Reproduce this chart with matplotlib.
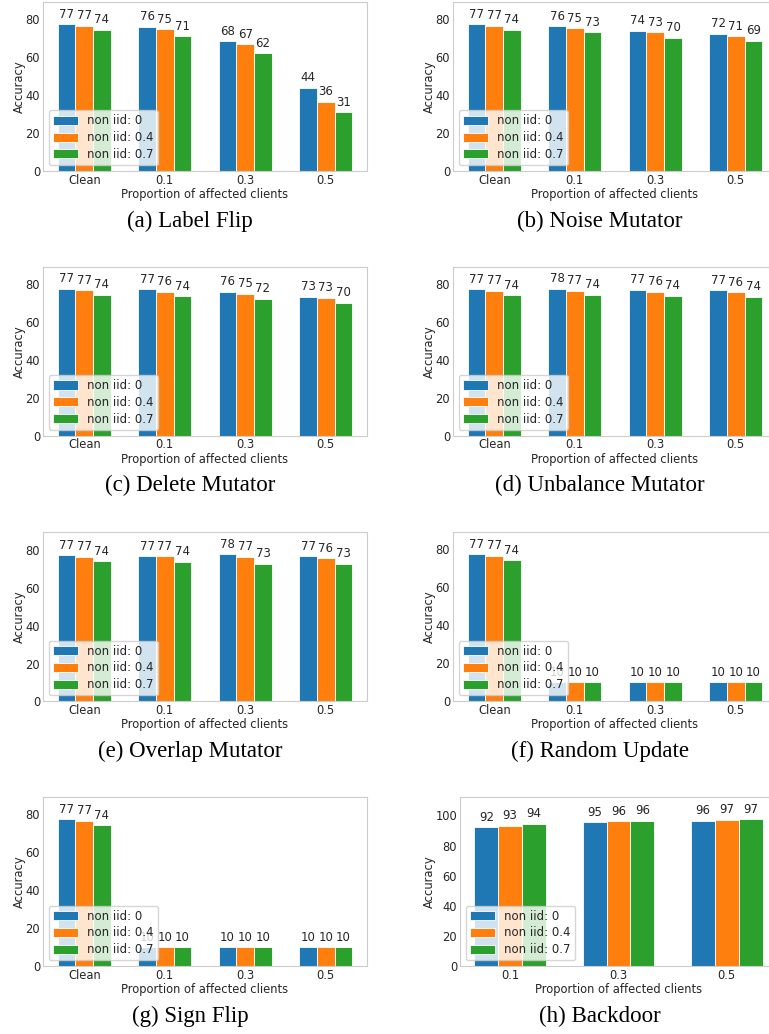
import numpy as np
import matplotlib
matplotlib.use("Agg")
import matplotlib.pyplot as plt

# -------------------------------
# Data (accuracy)
# -------------------------------
groups = ["Clean", "0.1", "0.3", "0.5"]
backdoor_groups = ["0.1", "0.3", "0.5"]
series_labels = ["non iid: 0", "non iid: 0.4", "non iid: 0.7"]
colors = ["#1f77b4", "#ff7f0e", "#2ca02c"]

# rows: non iid 0 / 0.4 / 0.7 ; columns: groups
label_flip = [[77.4, 75.9, 68.4, 43.9],
              [76.6, 74.6, 66.8, 36.4],
              [74.3, 71.0, 62.1, 31.0]]
noise_mutator = [[77.4, 76.3, 73.8, 72.2],
                 [76.6, 75.2, 73.1, 71.0],
                 [74.3, 73.1, 70.1, 68.7]]
delete_mutator = [[77.4, 77.2, 75.8, 73.1],
                  [76.6, 75.9, 74.7, 72.6],
                  [74.3, 73.5, 72.2, 70.0]]
unbalance_mutator = [[77.4, 77.6, 77.2, 76.8],
                     [76.6, 76.6, 76.1, 75.8],
                     [74.3, 74.5, 73.8, 73.5]]
overlap_mutator = [[77.4, 77.0, 77.9, 76.8],
                   [76.6, 76.8, 76.6, 75.8],
                   [74.3, 74.0, 72.8, 72.8]]
random_update = [[77.4, 10.0, 10.0, 10.0],
                 [76.6, 10.0, 10.0, 10.0],
                 [74.3, 10.0, 10.0, 10.0]]
sign_flip = [[77.4, 10.0, 10.0, 10.0],
             [76.6, 10.0, 10.0, 10.0],
             [74.3, 10.0, 10.0, 10.0]]
backdoor = [[92.2, 95.4, 96.4],
            [93.3, 96.2, 97.0],
            [94.4, 96.4, 97.4]]

captions = ["(a) Label Flip", "(b) Noise Mutator", "(c) Delete Mutator",
            "(d) Unbalance Mutator", "(e) Overlap Mutator", "(f) Random Update",
            "(g) Sign Flip", "(h) Backdoor"]

panels = [label_flip, noise_mutator, delete_mutator, unbalance_mutator,
          overlap_mutator, random_update, sign_flip, backdoor]

# -------------------------------
# Figure
# -------------------------------
W, H = 769, 1034
fig = plt.figure(figsize=(W / 100, H / 100), dpi=100)

plt.rcParams["font.family"] = "DejaVu Sans"
text_color = "#262626"

col_left = [43, 453]
row_top = [2, 266.7, 532.3, 797.3]
ax_w, ax_h = 324, 169
bar_w = 0.22

for i, (data, cap) in enumerate(zip(panels, captions)):
    row, col = i // 2, i % 2
    left = col_left[col]
    width = ax_w
    cats = groups
    if cap.endswith("Backdoor"):
        left, width = 460, 317
        cats = backdoor_groups
    top = row_top[row]
    ax = fig.add_axes([left / W, 1 - (top + ax_h) / H, width / W, ax_h / H])

    x = np.arange(len(cats))
    for k in range(3):
        bars = ax.bar(x + (k - 1) * bar_w, data[k], bar_w, color=colors[k],
                      edgecolor="white", linewidth=0.6, label=series_labels[k])
        for b in bars:
            h = b.get_height()
            ax.annotate(f"{int(round(h))}", xy=(b.get_x() + b.get_width() / 2, h),
                        xytext=(0, 2.5), textcoords="offset points",
                        ha="center", va="bottom", fontsize=8.5, color=text_color)

    ymax = max(max(r) for r in data)
    ax.set_ylim(0, ymax * 1.15)
    ax.set_xticks(x)
    ax.set_xticklabels(cats)
    ax.set_xlabel("Proportion of affected clients", fontsize=8.3, color=text_color, labelpad=1)
    ax.set_ylabel("Accuracy", fontsize=8.3, color=text_color, labelpad=0)
    ax.tick_params(length=0, labelsize=8.3, colors=text_color, pad=2)
    for s in ax.spines.values():
        s.set_color("#cccccc")
        s.set_linewidth(0.8)
    leg = ax.legend(loc="lower left", fontsize=8.5, framealpha=0.8,
                    edgecolor="#cccccc", handlelength=2.1, handleheight=0.8,
                    borderaxespad=0.5, labelspacing=0.32, borderpad=0.35)
    for t in leg.get_texts():
        t.set_color(text_color)

    # caption under the panel
    cx = (col_left[col] + ax_w / 2 - 15) / W
    cy = 1 - (top + ax_h + 50) / H
    fig.text(cx, cy, cap, ha="center", va="center", fontsize=16.5,
             family="Liberation Serif", color="black")

fig.savefig("out.png", dpi=100)
